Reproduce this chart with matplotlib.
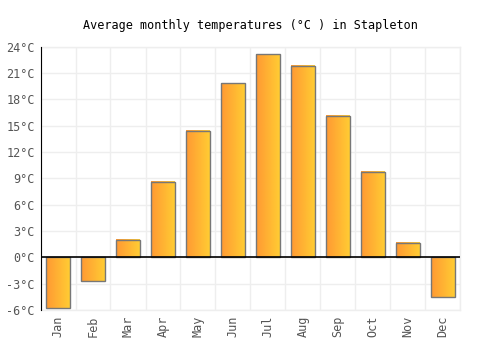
import numpy as np
import matplotlib.pyplot as plt
from matplotlib.colors import LinearSegmentedColormap

months = ['Jan', 'Feb', 'Mar', 'Apr', 'May', 'Jun', 'Jul', 'Aug', 'Sep', 'Oct', 'Nov', 'Dec']
temps = [-5.8, -2.7, 2.0, 8.6, 14.4, 19.8, 23.1, 21.8, 16.1, 9.7, 1.6, -4.5]
yticks = [-6, -3, 0, 3, 6, 9, 12, 15, 18, 21, 24]

plt.rcParams['font.family'] = 'DejaVu Sans Mono'

fig = plt.figure(figsize=(5, 3.5), dpi=100)
ax = fig.add_axes([0.081, 0.114, 0.84, 0.753])

x = np.arange(len(months))
cmap = LinearSegmentedColormap.from_list('grad', ['#ff9933', '#ffcc33'])
grad = np.linspace(0, 1, 64).reshape(1, -1)

bars = ax.bar(x, temps, width=0.66, facecolor='none', edgecolor='#777777', linewidth=1, zorder=3)
for b in bars:
    x0, y0 = b.get_x(), b.get_y()
    w, h = b.get_width(), b.get_height()
    ax.imshow(grad, cmap=cmap, aspect='auto', extent=(x0, x0 + w, y0, y0 + h), zorder=2)

ax.set_xlim(-0.5, len(months) - 0.5)
ax.set_ylim(-6, 24)
ax.set_yticks(yticks)
ax.set_yticklabels(['%d°C' % t for t in yticks])
ax.set_xticks(x)
ax.set_xticklabels(months, rotation=90)
ax.set_xticks(np.arange(-0.5, len(months)), minor=True)
ax.grid(True, which='minor', axis='x', color='#eeeeee', linewidth=1)
ax.grid(True, which='major', axis='y', color='#eeeeee', linewidth=1)
ax.set_axisbelow(True)
ax.tick_params(axis='both', which='both', length=0, labelsize=8.5, colors='#555555', pad=4)
for s in ['top', 'right', 'bottom']:
    ax.spines[s].set_color('#eeeeee')
    ax.spines[s].set_linewidth(1)
ax.spines['left'].set_color('black')
ax.spines['left'].set_zorder(5)
ax.axhline(0, color='black', linewidth=1.2, zorder=4)

fig.text(0.5, 0.928, 'Average monthly temperatures (°C ) in Stapleton', ha='center', va='center', fontsize=8.5)

fig.savefig('out.png', dpi=100)
